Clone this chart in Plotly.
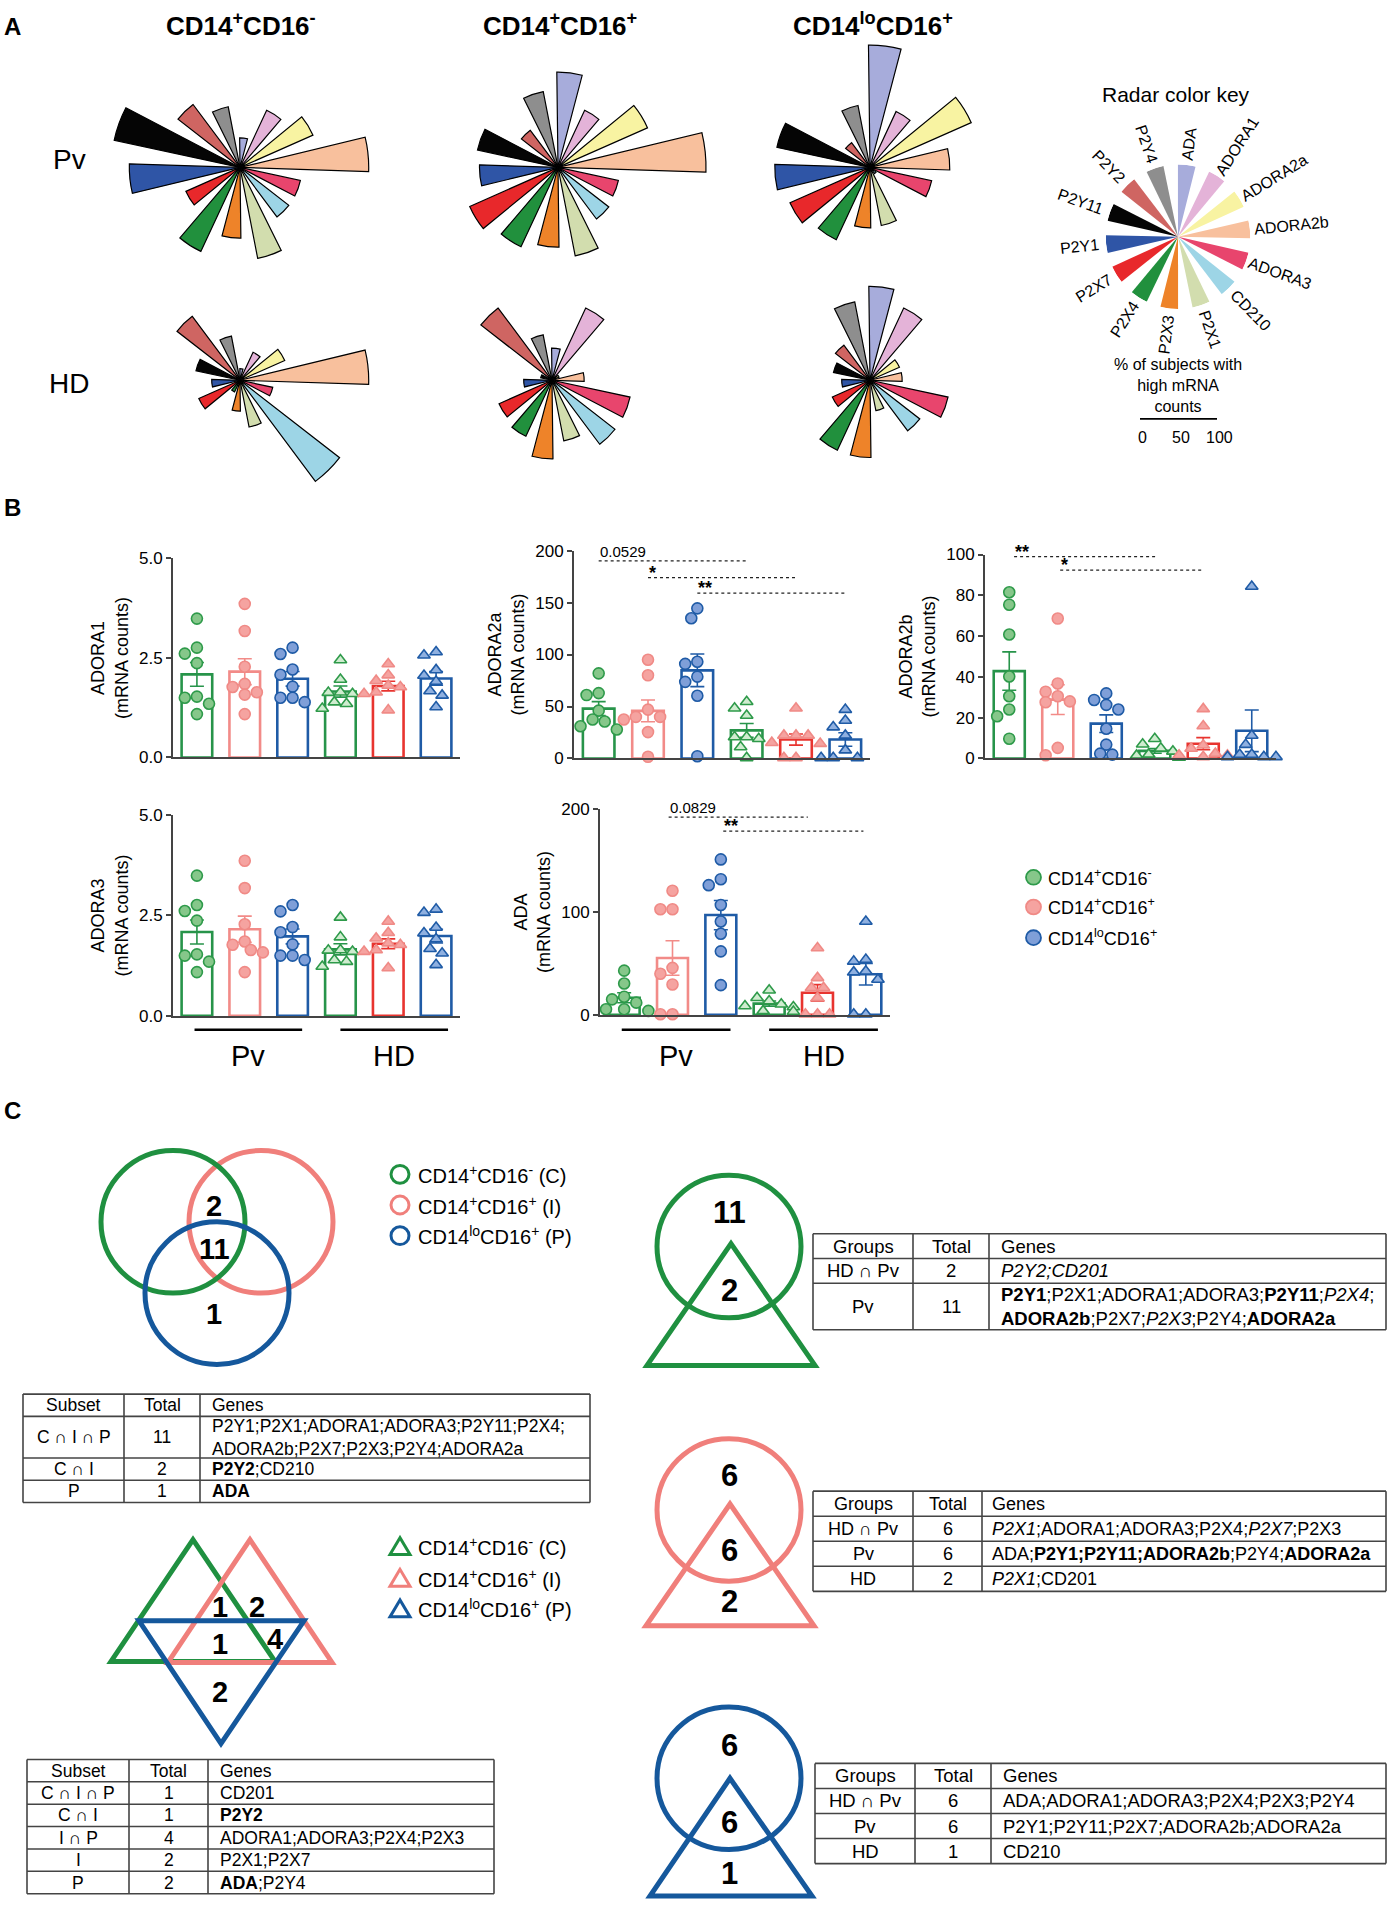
import math
import statistics
import plotly.graph_objects as go

# ---------------- DATA ----------------
genes = ["ADA", "ADORA1", "ADORA2a", "ADORA2b", "ADORA3", "CD210", "P2X1",
         "P2X3", "P2X4", "P2X7", "P2Y1", "P2Y11", "P2Y2", "P2Y4"]
gene_colors = ["#a7acdb", "#e4b3d8", "#f8f3a2", "#f8c09d", "#e8456d", "#9dd5e6", "#d2ddae",
               "#ee8329", "#21903d", "#e8282b", "#2f55a6", "#050505", "#cf6562", "#8e8e8e"]

# % of subjects with high mRNA counts (radar panels)
pv_classical = [23, 49, 62, 100, 48, 48, 72, 55, 72, 46, 86, 100, 61, 48]
pv_intermediate = [74, 49, 76, 115, 48, 50, 70, 62, 68, 75, 61, 64, 36, 60]
pv_nonclassical = [95, 48, 86, 62, 49, 6, 46, 47, 62, 68, 74, 74, 24, 49]
hd_classical = [9, 24, 38, 100, 26, 98, 37, 24, 10, 35, 22, 35, 62, 35]
hd_intermediate = [25, 62, 6, 25, 62, 62, 48, 61, 48, 45, 22, 9, 70, 36]
hd_nonclassical = [73, 62, 25, 25, 62, 49, 24, 60, 60, 32, 22, 29, 34, 62]
key_values = [100, 100, 100, 100, 100, 100, 100, 100, 100, 100, 100, 100, 100, 100]

groups = ["Pv CD14+CD16-", "Pv CD14+CD16+", "Pv CD14loCD16+",
          "HD CD14+CD16-", "HD CD14+CD16+", "HD CD14loCD16+"]

# mRNA counts per subject, group order as above
ADORA1 = [[3.49, 2.76, 2.61, 2.37, 1.53, 1.50, 1.35, 1.09],
          [3.86, 3.18, 2.28, 1.85, 1.77, 1.64, 1.58, 1.09],
          [2.76, 2.60, 2.21, 2.08, 1.78, 1.39, 1.50, 1.50],
          [2.45, 1.96, 1.63, 1.64, 1.60, 1.39, 1.35, 1.23],
          [2.35, 2.07, 1.93, 1.81, 1.77, 1.64, 1.60, 1.19],
          [2.65, 2.57, 2.20, 2.06, 1.91, 1.67, 1.56, 1.27]]
ADORA2A = [[81.9, 62.9, 61.0, 46.0, 37.5, 35.6, 31.0, 27.9],
           [95.0, 80.0, 47.0, 40.0, 40.0, 37.5, 25.4, 1.6],
           [144.4, 134.9, 91.0, 93.0, 73.7, 78.7, 60.3, 2.2],
           [54.6, 48.3, 41.3, 20.6, 20.6, 19.0, 11.1, 0.6],
           [48.3, 22.2, 22.2, 22.2, 15.2, 14.3, 0.6, 0.6],
           [47.0, 36.5, 30.2, 22.2, 8.0, 0.6, 0.6, 0.6]]
ADORA2B = [[81.5, 75.4, 60.8, 40.2, 30.5, 24.0, 20.7, 9.7],
           [68.6, 36.8, 32.7, 30.5, 28.0, 27.6, 5.2, 1.6],
           [31.9, 28.7, 26.3, 24.0, 14.6, 6.8, 1.9, 2.4],
           [9.7, 7.0, 5.0, 3.5, 2.0, 1.5, 0.5, 0.5],
           [24.3, 15.9, 6.5, 4.9, 2.4, 1.6, 1.6, 0.8],
           [84.3, 11.3, 6.8, 1.9, 0.8, 0.8, 0.8, 1.9]]
ADORA3 = [[3.49, 2.76, 2.61, 2.37, 1.53, 1.50, 1.35, 1.09],
          [3.86, 3.18, 2.28, 1.85, 1.77, 1.64, 1.58, 1.09],
          [2.76, 2.60, 2.21, 2.08, 1.78, 1.39, 1.50, 1.50],
          [2.45, 1.96, 1.63, 1.64, 1.60, 1.39, 1.35, 1.23],
          [2.35, 2.07, 1.93, 1.81, 1.77, 1.64, 1.60, 1.19],
          [2.65, 2.57, 2.20, 2.06, 1.91, 1.67, 1.56, 1.27]]
ADA = [[43.0, 30.5, 17.7, 15.1, 11.9, 5.5, 5.5, 3.9],
       [120.6, 102.6, 102.6, 45.7, 40.0, 29.6, 0.6, 0.6],
       [151.0, 131.8, 126.0, 106.8, 90.7, 78.8, 61.7, 28.9],
       [24.0, 16.7, 13.5, 10.3, 8.7, 7.7, 3.9, 3.2],
       [65.0, 36.0, 26.4, 26.4, 16.7, 0.6, 0.6, 0.6],
       [90.7, 52.0, 53.7, 42.4, 41.5, 34.4, 0.6, 0.6]]

# Tables
t1_header = ["Subset", "Total", "Genes"]
t1_rows = [["C ∩ I ∩ P", "11", "P2Y1;P2X1;ADORA1;ADORA3;P2Y11;P2X4;<br>ADORA2b;P2X7;P2X3;P2Y4;ADORA2a"],
           ["C ∩ I", "2", "<b>P2Y2</b>;CD210"],
           ["P", "1", "<b>ADA</b>"]]
t2_header = ["Subset", "Total", "Genes"]
t2_rows = [["C ∩ I ∩ P", "1", "CD201"],
           ["C ∩ I", "1", "<b>P2Y2</b>"],
           ["I ∩ P", "4", "ADORA1;ADORA3;P2X4;P2X3"],
           ["I", "2", "P2X1;P2X7"],
           ["P", "2", "<b>ADA</b>;P2Y4"]]
t3_header = ["Groups", "Total", "Genes"]
t3_rows = [["HD ∩ Pv", "2", "<i>P2Y2;CD201</i>"],
           ["Pv", "11", "<b>P2Y1</b>;P2X1;ADORA1;ADORA3;<b>P2Y11</b>;<i>P2X4</i>;<br>"
                        "<b>ADORA2b</b>;P2X7;<i>P2X3</i>;P2Y4;<b>ADORA2a</b>"]]
t4_header = ["Groups", "Total", "Genes"]
t4_rows = [["HD ∩ Pv", "6", "<i>P2X1</i>;ADORA1;ADORA3;P2X4;<i>P2X7</i>;P2X3"],
           ["Pv", "6", "ADA;<b>P2Y1;P2Y11;ADORA2b</b>;P2Y4;<b>ADORA2a</b>"],
           ["HD", "2", "<i>P2X1</i>;CD201"]]
t5_header = ["Groups", "Total", "Genes"]
t5_rows = [["HD ∩ Pv", "6", "ADA;ADORA1;ADORA3;P2X4;P2X3;P2Y4"],
           ["Pv", "6", "P2Y1;P2Y11;P2X7;ADORA2b;ADORA2a"],
           ["HD", "1", "CD210"]]

venn_circle_counts = ["2", "11", "1"]
venn_triangle_counts = ["1", "2", "1", "4", "2"]
green_counts = ["11", "2"]
pink_counts = ["6", "6", "2"]
blue_counts = ["6", "6", "1"]

# ---------------- HELPERS ----------------
W, H = 1389, 1913
FONT = "Liberation Sans, Arial, Helvetica, sans-serif"
NARROW = "Liberation Sans Narrow, Arial Narrow, Liberation Sans, Arial, sans-serif"


def fx(x):
    return x / W


def fy(y):
    return 1 - y / H


fig = go.Figure()
annotations = []
shapes = []
layout = {}


def text(x, y, s, size=16, bold=False, family=FONT, xanchor="center", yanchor="middle",
         angle=0, color="black", align="center"):
    if bold:
        s = "<b>" + s + "</b>"
    annotations.append(dict(x=fx(x), y=fy(y), xref="paper", yref="paper", text=s,
                            showarrow=False, xanchor=xanchor, yanchor=yanchor, align=align,
                            textangle=angle, font=dict(family=family, size=size, color=color)))


def hline(x0, x1, y, col="#444", w=1.6):
    shapes.append(dict(type="line", xref="paper", yref="paper", x0=fx(x0), x1=fx(x1),
                       y0=fy(y), y1=fy(y), line=dict(color=col, width=w)))


def vline(x, y0, y1, col="#444", w=1.6):
    shapes.append(dict(type="line", xref="paper", yref="paper", x0=fx(x), x1=fx(x),
                       y0=fy(y0), y1=fy(y1), line=dict(color=col, width=w)))


# ---------------- A: RADARS ----------------
RMAX = 120
R = 1.3 * RMAX
radars = [(pv_classical, 240, 160), (pv_intermediate, 558, 160), (pv_nonclassical, 870, 160),
          (hd_classical, 240, 375), (hd_intermediate, 552, 375), (hd_nonclassical, 870, 375)]
ROT = 83
for k, (vals, cx, cy) in enumerate(radars):
    name = "polar" if k == 0 else "polar%d" % (k + 1)
    fig.add_trace(go.Barpolar(r=vals, theta=genes, subplot=name, showlegend=False,
                              marker=dict(color=gene_colors, line=dict(color="black", width=1.2))))
    layout[name] = dict(
        domain=dict(x=[fx(cx - R), fx(cx + R)], y=[fy(cy + R), fy(cy - R)]),
        bgcolor="rgba(0,0,0,0)", bargap=0.4,
        radialaxis=dict(range=[0, RMAX], visible=False),
        angularaxis=dict(rotation=ROT, direction="clockwise", visible=False,
                         categoryorder="array", categoryarray=genes))

# key
KX, KY, KR = 1178, 230, 73
fig.add_trace(go.Barpolar(r=key_values, theta=genes, subplot="polar7", showlegend=False,
                          marker=dict(color=gene_colors, line=dict(color="rgba(0,0,0,0)", width=0))))
layout["polar7"] = dict(
    domain=dict(x=[fx(KX - KR), fx(KX + KR)], y=[fy(KY + KR), fy(KY - KR)]),
    bgcolor="rgba(0,0,0,0)", bargap=0.45,
    radialaxis=dict(range=[0, 100], visible=False),
    angularaxis=dict(rotation=ROT, direction="clockwise", visible=False,
                     categoryorder="array", categoryarray=genes))
for i, g in enumerate(genes):
    ang = ROT - i * 360.0 / len(genes)
    a = (ang + 180) % 360 - 180
    if -90 <= a <= 90:
        ta = -a
    else:
        ta = (180 - a + 180) % 360 - 180
    L = len(g) * 9.6
    r = 80 + L / 2
    x = KX + r * math.cos(math.radians(ang))
    y = KY - r * math.sin(math.radians(ang))
    text(x, y, g, size=16, angle=ta)

text(1176, 86, "Radar color key", size=21)
text(1178, 380, "% of subjects with<br>high mRNA<br>counts", size=16)
hline(1140, 1217, 414, col="black", w=1.6)
text(1142, 433, "0", size=16)
text(1181, 433, "50", size=16)
text(1219, 433, "100", size=16)

text(241, 16, "CD14<sup>+</sup>CD16<sup>-</sup>", size=26, bold=True, family=NARROW)
text(560, 16, "CD14<sup>+</sup>CD16<sup>+</sup>", size=26, bold=True, family=NARROW)
text(873, 16, "CD14<sup>lo</sup>CD16<sup>+</sup>", size=26, bold=True, family=NARROW)
text(69, 152, "Pv", size=28, family=NARROW)
text(69, 378, "HD", size=28, family=NARROW)
text(12, 18, "A", size=24, bold=True)
text(12, 503, "B", size=24, bold=True)
text(12, 1113, "C", size=24, bold=True)

# ---------------- B: BAR CHARTS ----------------
bar_line = ["#27944a", "#f28b88", "#1f5ba6", "#27944a", "#e8342f", "#1f5ba6"]
pt_fill = ["#86c78a", "#f5a3a0", "#7f9fd8", "#cfeccf", "#f5a3a0", "#8fb0e0"]
pt_line = ["#2e9a4a", "#f08a86", "#1f5ba6", "#2e9a4a", "#f08a86", "#1f5ba6"]
pt_sym = ["circle", "circle", "circle", "triangle-up", "triangle-up", "triangle-up"]


def swarm(vals, ppu, ppc, d=11.0):
    offs = [0.0] * len(vals)
    placed = []
    order = sorted(range(len(vals)), key=lambda i: -vals[i])
    cands = [0, -0.55, 0.55, -1.1, 1.1, -1.65, 1.65, -2.2, 2.2]
    for i in order:
        yy = vals[i] * ppu
        xx = 0
        for c in cands:
            xx = c * d
            if all((xx - a) ** 2 + (yy - b) ** 2 >= (0.95 * d) ** 2 for a, b in placed):
                break
        placed.append((xx, yy))
        offs[i] = xx / ppc
    return offs


panels = [
    dict(title="ADORA1", data=ADORA1, xs=(173, 460), ys=(555, 756), top=5,
         tv=[0, 2.5, 5], tt=["0.0", "2.5", "5.0"], sig=[]),
    dict(title="ADORA2a", data=ADORA2A, xs=(574, 870), ys=(547, 757), top=200,
         tv=[0, 50, 100, 150, 200], tt=["0", "50", "100", "150", "200"],
         sig=[(0, 3, 190, "0.0529"), (1, 4, 174, "*"), (2, 5, 159, "**")]),
    dict(title="ADORA2b", data=ADORA2B, xs=(985, 1276), ys=(551, 757), top=100,
         tv=[0, 20, 40, 60, 80, 100], tt=["0", "20", "40", "60", "80", "100"],
         sig=[(0.1, 3.05, 99, "**"), (1.05, 4.0, 92.4, "*")]),
    dict(title="ADORA3", data=ADORA3, xs=(173, 460), ys=(814, 1017), top=5,
         tv=[0, 2.5, 5], tt=["0.0", "2.5", "5.0"], sig=[], groups=True),
    dict(title="ADA", data=ADA, xs=(600, 890), ys=(808, 1016), top=200,
         tv=[0, 100, 200], tt=["0", "100", "200"],
         sig=[(0.92, 3.8, 192, "0.0829"), (2.05, 4.95, 178.5, "**")], groups=True),
]

for p_i, p in enumerate(panels):
    sx = "" if p_i == 0 else str(p_i + 1)
    xa, ya = "x" + sx, "y" + sx
    ppu = (p["ys"][1] - p["ys"][0]) / p["top"]
    ppc = (p["xs"][1] - p["xs"][0]) / 6.0
    for g in range(6):
        vals = p["data"][g]
        m = statistics.mean(vals)
        sem = statistics.stdev(vals) / math.sqrt(len(vals))
        fig.add_trace(go.Bar(x=[g], y=[m], width=0.64, xaxis=xa, yaxis=ya, showlegend=False,
                             marker=dict(color="rgba(255,255,255,0)",
                                         line=dict(color=bar_line[g], width=2.6)),
                             error_y=dict(type="data", array=[sem], visible=True,
                                          color=bar_line[g], thickness=1.6, width=7)))
    for g in range(6):
        vals = p["data"][g]
        offs = swarm(vals, ppu, ppc)
        fig.add_trace(go.Scatter(x=[g + o for o in offs], y=vals, mode="markers",
                                 xaxis=xa, yaxis=ya, showlegend=False, cliponaxis=False,
                                 marker=dict(symbol=pt_sym[g], size=11, color=pt_fill[g],
                                             line=dict(color=pt_line[g], width=1.6))))
    layout["xaxis" + sx] = dict(domain=[fx(p["xs"][0]), fx(p["xs"][1])], anchor=ya,
                                range=[-0.5, 5.5], showline=True, linecolor="#444", linewidth=2,
                                showticklabels=False, ticks="", showgrid=False, zeroline=False)
    layout["yaxis" + sx] = dict(domain=[fy(p["ys"][1]), fy(p["ys"][0])], anchor=xa,
                                range=[0, p["top"]], tickvals=p["tv"], ticktext=p["tt"],
                                showline=True, linecolor="#444", linewidth=2, ticks="outside",
                                ticklen=5, tickwidth=1.5, tickcolor="#444", showgrid=False,
                                zeroline=False, tickfont=dict(family=FONT, size=17, color="black"),
                                title=dict(text=p["title"] + "<br>(mRNA counts)", standoff=6,
                                           font=dict(family=FONT, size=18, color="black")))
    for (i0, i1, lvl, lab) in p["sig"]:
        shapes.append(dict(type="line", xref=xa, yref=ya, x0=i0, x1=i1, y0=lvl, y1=lvl,
                           line=dict(color="#222", width=1.3, dash="dot")))
        if lab.startswith("*"):
            annotations.append(dict(x=i0 - 0.02, y=lvl, xref=xa, yref=ya, text="<b>" + lab + "</b>",
                                    showarrow=False, xanchor="left", yanchor="bottom", yshift=-7,
                                    font=dict(family=FONT, size=18, color="black")))
        else:
            annotations.append(dict(x=i0 - 0.02, y=lvl, xref=xa, yref=ya, text=lab,
                                    showarrow=False, xanchor="left", yanchor="bottom", yshift=-1,
                                    font=dict(family=NARROW, size=15, color="black")))
    if p.get("groups"):
        for (a, b, lab) in [(-0.05, 2.2, "Pv"), (3.0, 5.25, "HD")]:
            shapes.append(dict(type="line", xref=xa, yref="paper", x0=a, x1=b,
                               y0=fy(1031), y1=fy(1031), line=dict(color="black", width=2.5)))
            annotations.append(dict(x=(a + b) / 2, y=fy(1057), xref=xa, yref="paper", text=lab,
                                    showarrow=False, xanchor="center", yanchor="middle",
                                    font=dict(family=NARROW, size=29, color="black")))

# legend for B
leg_labels = ["CD14<sup>+</sup>CD16<sup>-</sup>", "CD14<sup>+</sup>CD16<sup>+</sup>",
              "CD14<sup>lo</sup>CD16<sup>+</sup>"]
for k, yy in enumerate([877, 907, 938]):
    shapes.append(dict(type="circle", xref="paper", yref="paper", x0=fx(1026), x1=fx(1041),
                       y0=fy(yy + 7.5), y1=fy(yy - 7.5), fillcolor=pt_fill[k],
                       line=dict(color=pt_line[k], width=1.8)))
    text(1046, yy, leg_labels[k], size=18, xanchor="left")

# ---------------- C: VENN ----------------
GREEN, PINK, BLUE = "#1f9040", "#f07f7b", "#15589c"


def circ(cx, cy, r, col, w=5):
    shapes.append(dict(type="circle", xref="paper", yref="paper", x0=fx(cx - r), x1=fx(cx + r),
                       y0=fy(cy + r), y1=fy(cy - r), line=dict(color=col, width=w)))


def tri(pts, col, w=5):
    path = "M " + " L ".join("%f,%f" % (fx(a), fy(b)) for a, b in pts) + " Z"
    shapes.append(dict(type="path", xref="paper", yref="paper", path=path,
                       line=dict(color=col, width=w)))


circ(261, 1225, 72, PINK)
circ(173, 1225, 72, GREEN)
circ(217, 1297, 72, BLUE)
for s, (x, y) in zip(venn_circle_counts, [(214, 1209), (214, 1252), (214, 1318)]):
    text(x, y, s, size=29, bold=True, family=NARROW)

venn_names = ["CD14<sup>+</sup>CD16<sup>-</sup> (C)", "CD14<sup>+</sup>CD16<sup>+</sup> (I)",
              "CD14<sup>lo</sup>CD16<sup>+</sup> (P)"]
for k, (yy, col) in enumerate(zip([1177, 1208, 1239], [GREEN, PINK, BLUE])):
    circ(400, yy, 9, col, w=3)
    text(416, yy, venn_names[k], size=20, xanchor="left")

tri([(193, 1546), (111, 1669), (275, 1669)], GREEN)
tri([(250, 1546), (168, 1670), (332, 1670)], PINK)
tri([(139, 1628), (304, 1628), (221, 1752)], BLUE)
for s, (x, y) in zip(venn_triangle_counts,
                     [(220, 1614), (257, 1614), (220, 1651), (275, 1646), (220, 1700)]):
    text(x, y, s, size=29, bold=True, family=NARROW)
for k, (yy, col) in enumerate(zip([1553, 1585, 1616], [GREEN, PINK, BLUE])):
    tri([(400, yy - 9), (390, yy + 8), (410, yy + 8)], col, w=3)
    text(416, yy, venn_names[k], size=20, xanchor="left")

# right side circle/triangle diagrams
circ(729, 1250, 72, GREEN)
tri([(731, 1247), (647, 1370), (815, 1370)], GREEN)
for s, (x, y) in zip(green_counts, [(730, 1216), (730, 1294)]):
    text(x, y, s, size=31, bold=True, family=NARROW)
circ(729, 1516, 72, PINK)
tri([(730, 1510), (646, 1633), (814, 1633)], PINK)
for s, (x, y) in zip(pink_counts, [(730, 1481), (730, 1557), (729, 1608)]):
    text(x, y, s, size=31, bold=True, family=NARROW)
circ(729, 1787, 72, BLUE)
tri([(730, 1787), (650, 1906), (812, 1906)], BLUE)
for s, (x, y) in zip(blue_counts, [(730, 1754), (729, 1832), (729, 1883)]):
    text(x, y, s, size=31, bold=True, family=NARROW)


# ---------------- TABLES (drawn as ruled text grids) ----------------
def draw_table(header, rows, xs, y0, rh, size=17, pad=10):
    all_rows = [header] + rows
    heights = []
    for r in all_rows:
        nl = max(c.count("<br>") + 1 for c in r)
        heights.append(rh + (nl - 1) * (rh - 3))
    ys = [y0]
    for h in heights:
        ys.append(ys[-1] + h)
    for y in ys:
        hline(xs[0], xs[-1], y)
    for x in xs:
        vline(x, ys[0], ys[-1])
    for ri, r in enumerate(all_rows):
        yc = (ys[ri] + ys[ri + 1]) / 2
        for ci, c in enumerate(r):
            if ci < 2:
                text((xs[ci] + xs[ci + 1]) / 2, yc, c, size=size)
            else:
                text(xs[ci] + pad, yc, c, size=size, xanchor="left", align="left")


draw_table(t1_header, t1_rows, [23, 124, 200, 590], 1399, 22.5, size=17.5)
draw_table(t2_header, t2_rows, [27, 129, 208, 494], 1768, 22.6, size=17.5)
draw_table(t3_header, t3_rows, [813, 913, 989, 1386], 1237, 25, size=18.5)
draw_table(t4_header, t4_rows, [813, 913, 982, 1386], 1497, 25.3, size=18, pad=8)
draw_table(t5_header, t5_rows, [815, 915, 991, 1386], 1772, 25.3, size=18.5)

fig.update_layout(width=W, height=H, margin=dict(l=0, r=0, t=0, b=0),
                  paper_bgcolor="white", plot_bgcolor="rgba(0,0,0,0)",
                  showlegend=False, barmode="overlay", hovermode=False,
                  font=dict(family=FONT, color="black"),
                  annotations=annotations, shapes=shapes, **layout)
fig.write_html("out.html", config={"displayModeBar": False},
               post_script="document.body.style.margin='0px';")
